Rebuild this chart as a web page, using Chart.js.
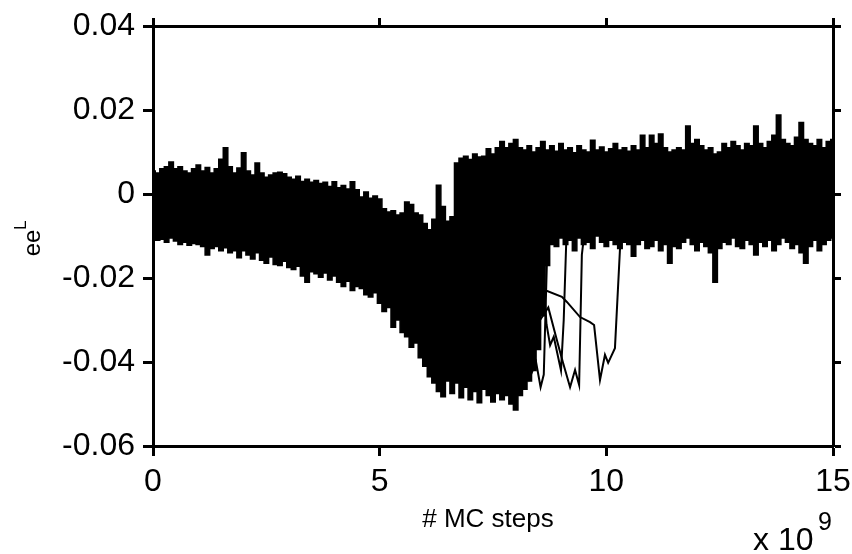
<!DOCTYPE html>
<html>
<head>
<meta charset="utf-8">
<script src="https://cdn.jsdelivr.net/npm/chart.js@4.4.1/dist/chart.umd.min.js"></script>
<style>
  body { margin: 0; background: #fff; }
  canvas { display: block; }
</style>
</head>
<body>
<canvas id="chart" width="852" height="554"></canvas>
<script>
const FONT = "'Liberation Sans', Arial, sans-serif";

// MC steps, in units of 1e9
const steps = [
  0, 0.1, 0.2, 0.3, 0.4, 0.5, 0.6, 0.7, 0.8, 0.9,
  1, 1.1, 1.2, 1.3, 1.4, 1.5, 1.6, 1.7, 1.8, 1.9,
  2, 2.1, 2.2, 2.3, 2.4, 2.5, 2.6, 2.7, 2.8, 2.9,
  3, 3.1, 3.2, 3.3, 3.4, 3.5, 3.6, 3.7, 3.8, 3.9,
  4, 4.1, 4.2, 4.3, 4.4, 4.5, 4.6, 4.7, 4.8, 4.9,
  5, 5.1, 5.2, 5.3, 5.4, 5.5, 5.6, 5.7, 5.8, 5.9,
  6, 6.1, 6.2, 6.3, 6.4, 6.5, 6.6, 6.7, 6.8, 6.9,
  7, 7.1, 7.2, 7.3, 7.4, 7.5, 7.6, 7.7, 7.8, 7.9,
  8, 8.1, 8.2, 8.3, 8.4, 8.5, 8.6, 8.7, 8.8, 8.9,
  9, 9.1, 9.2, 9.3, 9.4, 9.5, 9.6, 9.7, 9.8, 9.9,
  10, 10.1, 10.2, 10.3, 10.4, 10.5, 10.6, 10.7, 10.8, 10.9,
  11, 11.1, 11.2, 11.3, 11.4, 11.5, 11.6, 11.7, 11.8, 11.9,
  12, 12.1, 12.2, 12.3, 12.4, 12.5, 12.6, 12.7, 12.8, 12.9,
  13, 13.1, 13.2, 13.3, 13.4, 13.5, 13.6, 13.7, 13.8, 13.9,
  14, 14.1, 14.2, 14.3, 14.4, 14.5, 14.6, 14.7, 14.8, 14.9,
  15
];

// top edge of the bundle of runs
const upper = [
  0.0055, 0.0050, 0.0060, 0.0065, 0.0076, 0.0060, 0.0065, 0.0055, 0.0050, 0.0060,
  0.0069, 0.0055, 0.0063, 0.0050, 0.0060, 0.0083, 0.0110, 0.0065, 0.0050, 0.0062,
  0.0098, 0.0055, 0.0045, 0.0074, 0.0050, 0.0040, 0.0045, 0.0050, 0.0052, 0.0048,
  0.0040, 0.0035, 0.0042, 0.0030, 0.0035, 0.0028, 0.0032, 0.0025, 0.0028, 0.0018,
  0.0029, 0.0015, 0.0020, 0.0012, 0.0029, 0.0010, -0.0007, 0.0005, -0.0010, -0.0005,
  -0.0012, -0.0035, -0.0043, -0.0040, -0.0050, -0.0045, -0.0019, -0.0025, -0.0045, -0.0050,
  -0.0070, -0.0085, -0.0060, 0.0021, -0.0030, -0.0065, -0.0054, 0.0074, 0.0085, 0.0090,
  0.0082, 0.0095, 0.0088, 0.0090, 0.0108, 0.0095, 0.0110, 0.0125, 0.0110, 0.0120,
  0.0130, 0.0110, 0.0105, 0.0115, 0.0100, 0.0110, 0.0125, 0.0105, 0.0115, 0.0102,
  0.0120, 0.0105, 0.0110, 0.0098, 0.0115, 0.0105, 0.0100, 0.0128, 0.0105, 0.0112,
  0.0100, 0.0108, 0.0120, 0.0105, 0.0110, 0.0102, 0.0115, 0.0105, 0.0140, 0.0110,
  0.0140, 0.0120, 0.0143, 0.0110, 0.0100, 0.0105, 0.0110, 0.0105, 0.0162, 0.0120,
  0.0130, 0.0115, 0.0105, 0.0110, 0.0095, 0.0100, 0.0120, 0.0110, 0.0125, 0.0115,
  0.0105, 0.0120, 0.0115, 0.0162, 0.0120, 0.0110, 0.0125, 0.0140, 0.0188, 0.0130,
  0.0120, 0.0115, 0.0135, 0.0170, 0.0130, 0.0120, 0.0115, 0.0130, 0.0110, 0.0125,
  0.0130
];

// bottom edge of the bundle of runs
const lower = [
  -0.0105, -0.0110, -0.0108, -0.0115, -0.0105, -0.0112, -0.0120, -0.0115, -0.0122, -0.0118,
  -0.0120, -0.0125, -0.0145, -0.0130, -0.0125, -0.0135, -0.0128, -0.0140, -0.0135, -0.0152,
  -0.0135, -0.0145, -0.0155, -0.0140, -0.0158, -0.0165, -0.0150, -0.0168, -0.0170, -0.0160,
  -0.0175, -0.0180, -0.0172, -0.0195, -0.0210, -0.0185, -0.0190, -0.0198, -0.0188, -0.0205,
  -0.0195, -0.0210, -0.0220, -0.0208, -0.0230, -0.0220, -0.0225, -0.0240, -0.0245, -0.0235,
  -0.0260, -0.0280, -0.0270, -0.0317, -0.0300, -0.0330, -0.0340, -0.0365, -0.0355, -0.0390,
  -0.0410, -0.0435, -0.0450, -0.0470, -0.0483, -0.0445, -0.0475, -0.0450, -0.0485, -0.0460,
  -0.0490, -0.0470, -0.0497, -0.0465, -0.0480, -0.0495, -0.0475, -0.0490, -0.0480, -0.0500,
  -0.0514, -0.0480, -0.0465, -0.0445, -0.0420, -0.0370, -0.0290, -0.0170, -0.0120, -0.0125,
  -0.0105, -0.0120, -0.0110, -0.0135, -0.0105, -0.0120, -0.0115, -0.0130, -0.0100, -0.0115,
  -0.0125, -0.0110, -0.0120, -0.0130, -0.0115, -0.0120, -0.0148, -0.0120, -0.0110, -0.0130,
  -0.0125, -0.0110, -0.0135, -0.0120, -0.0165, -0.0125, -0.0130, -0.0115, -0.0105, -0.0120,
  -0.0135, -0.0115, -0.0125, -0.0140, -0.0210, -0.0130, -0.0115, -0.0120, -0.0105, -0.0125,
  -0.0130, -0.0110, -0.0120, -0.0145, -0.0115, -0.0125, -0.0110, -0.0135, -0.0120, -0.0105,
  -0.0115, -0.0130, -0.0120, -0.0140, -0.0165, -0.0125, -0.0110, -0.0135, -0.0120, -0.0110,
  -0.0105
];

// late runs that leave the bundle after the jump
const lateSteps1 = [8.45, 8.65, 9.02, 9.13, 9.42, 9.64, 9.73, 9.86, 9.97, 10.04, 10.19, 10.3, 10.39];
const lateRun1 = [-0.018, -0.0229, -0.0245, -0.0257, -0.0293, -0.0305, -0.0312, -0.0443, -0.0383, -0.0402, -0.0367, -0.0133, -0.0074];
const lateSteps2 = [8.45, 8.54, 8.72, 8.91, 9.04, 9.2, 9.31, 9.4, 9.46, 9.53];
const lateRun2 = [-0.022, -0.030, -0.027, -0.0348, -0.040, -0.046, -0.0419, -0.0455, -0.0145, -0.008];
const lateSteps3 = [8.4, 8.6, 8.68, 8.76, 8.84, 9.0, 9.06, 9.12];
const lateRun3 = [-0.014, -0.017, -0.031, -0.036, -0.034, -0.042, -0.030, -0.010];
const lateSteps4 = [8.1, 8.3, 8.45, 8.55, 8.62, 8.7];
const lateRun4 = [-0.030, -0.044, -0.040, -0.046, -0.043, -0.012];

const yTicks = [0.04, 0.02, 0, -0.02, -0.04, -0.06];

const pts = (xs, ys) => xs.map((x, i) => ({ x: x, y: ys[i] }));

const lineStyle = {
  borderColor: "#000",
  borderWidth: 1.5,
  pointRadius: 0,
  tension: 0,
  fill: false,
};

const labels = {
  id: "labels",
  afterDraw(chart) {
    const c = chart.ctx;
    c.save();
    c.fillStyle = "#000";
    c.textBaseline = "alphabetic";
    // x title
    c.font = "26px " + FONT;
    c.textAlign = "center";
    c.fillText("# MC steps", 488, 527);
    // x exponent
    c.textAlign = "left";
    c.font = "32px " + FONT;
    c.fillText("x 10", 753, 550);
    c.font = "25px " + FONT;
    c.fillText("9", 818, 530);
    // y title, rotated
    c.translate(40, 243);
    c.rotate(-Math.PI / 2);
    c.font = "24px " + FONT;
    c.textAlign = "center";
    c.fillText("ee", 0, 0);
    c.font = "17px " + FONT;
    c.textAlign = "left";
    c.fillText("L", 13, -14);
    c.restore();
  },
};

const axisGrid = (len) => ({
  drawOnChartArea: false,
  drawTicks: true,
  tickLength: len,
  tickWidth: 3,
  tickColor: "#000",
});
const axisBorder = { display: true, color: "#000", width: 3 };

new Chart(document.getElementById("chart"), {
  type: "line",
  data: {
    datasets: [
      Object.assign({}, lineStyle, {
        data: pts(steps, upper),
        fill: "+1",
        stepped: "middle",
        backgroundColor: "#000",
      }),
      Object.assign({}, lineStyle, { data: pts(steps, lower), stepped: "middle" }),
      Object.assign({}, lineStyle, { data: pts(lateSteps1, lateRun1), borderWidth: 2 }),
      Object.assign({}, lineStyle, { data: pts(lateSteps2, lateRun2), borderWidth: 2 }),
      Object.assign({}, lineStyle, { data: pts(lateSteps3, lateRun3), borderWidth: 2 }),
      Object.assign({}, lineStyle, { data: pts(lateSteps4, lateRun4), borderWidth: 2 }),
    ],
  },
  options: {
    responsive: false,
    animation: false,
    devicePixelRatio: 1,
    layout: { padding: 0 },
    plugins: {
      legend: { display: false },
      tooltip: { enabled: false },
    },
    scales: {
      x: {
        type: "linear",
        position: "bottom",
        min: 0,
        max: 15,
        afterFit: (s) => {
          s.height = 108;
          s.paddingLeft = 0;
          s.paddingRight = 0;
        },
        ticks: {
          stepSize: 5,
          color: "#000",
          padding: 7,
          font: { family: FONT, size: 32 },
          maxRotation: 0,
        },
        grid: axisGrid(10),
        border: axisBorder,
      },
      x2: {
        type: "linear",
        position: "top",
        min: 0,
        max: 15,
        afterFit: (s) => {
          s.height = 26;
          s.paddingLeft = 0;
          s.paddingRight = 0;
        },
        ticks: { stepSize: 5, display: false },
        grid: axisGrid(8),
        border: axisBorder,
      },
      y: {
        type: "linear",
        position: "left",
        min: -0.06,
        max: 0.04,
        afterFit: (s) => {
          s.width = 153;
          s.paddingTop = 0;
          s.paddingBottom = 0;
        },
        afterBuildTicks: (s) => { s.ticks = yTicks.map((v) => ({ value: v })); },
        ticks: {
          color: "#000",
          padding: 8,
          font: { family: FONT, size: 32 },
          callback: (v) => (v === 0 ? "0" : v.toFixed(2)),
        },
        grid: axisGrid(10),
        border: axisBorder,
      },
      y2: {
        type: "linear",
        position: "right",
        min: -0.06,
        max: 0.04,
        afterFit: (s) => {
          s.width = 19;
          s.paddingTop = 0;
          s.paddingBottom = 0;
        },
        afterBuildTicks: (s) => { s.ticks = yTicks.map((v) => ({ value: v })); },
        ticks: { display: false },
        grid: axisGrid(8),
        border: axisBorder,
      },
    },
  },
  plugins: [labels],
});
</script>
</body>
</html>
